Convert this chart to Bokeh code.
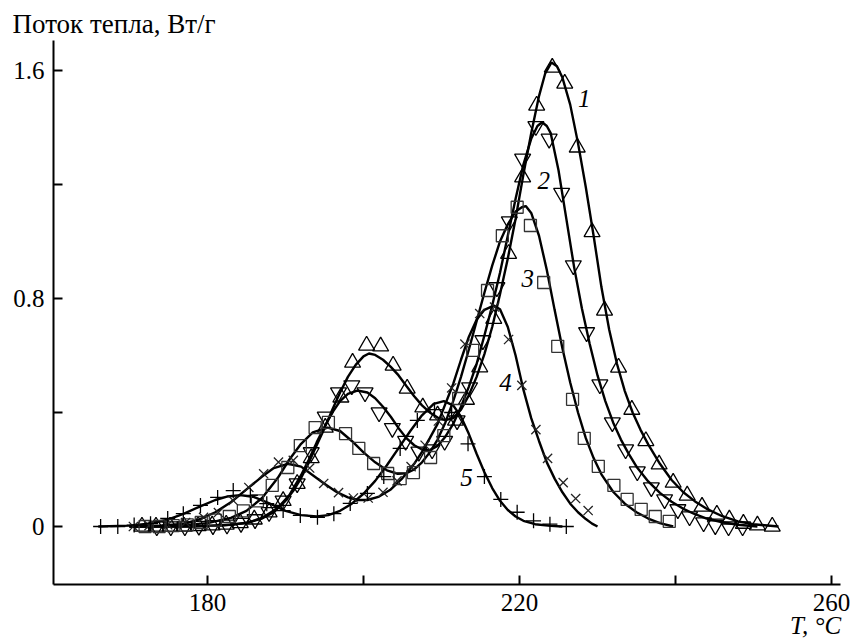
from bokeh.plotting import figure
from bokeh.models import Range1d, FixedTicker, Label
from bokeh.embed import file_html
from bokeh.resources import INLINE

# ---------------- data ----------------
# fitted curves
T1f = [170, 176, 180, 183, 185, 187, 188.5, 190, 191, 192, 193, 194, 195, 196, 197, 198, 199, 200, 200.7, 201.5,
       202.5, 203.5, 204.5, 205.5, 206.5, 207.5, 208.5, 209.5, 210.5, 211.5, 212.5, 213.5, 214.5, 215.5, 216.5,
       217.5, 218.5, 219.5, 220.5, 221.5, 222.5, 223.3, 224.1, 224.8, 225.5, 226.5, 227.5, 228.5, 229.5, 230.5,
       231.5, 232.5, 233.5, 234.5, 235.5, 236.5, 238, 239.5, 241, 242.5, 244, 246, 248, 250, 253.2]
Q1f = [0, 0, 0.002, 0.006, 0.013, 0.028, 0.05, 0.09, 0.125, 0.17, 0.225, 0.285, 0.345, 0.41, 0.47, 0.525, 0.567,
       0.597, 0.607, 0.602, 0.585, 0.56, 0.53, 0.493, 0.457, 0.425, 0.40, 0.382, 0.373, 0.38, 0.41, 0.46, 0.525,
       0.605, 0.70, 0.815, 0.94, 1.08, 1.235, 1.38, 1.51, 1.59, 1.628, 1.615, 1.575, 1.48, 1.345, 1.19, 1.02, 0.84,
       0.69, 0.57, 0.475, 0.40, 0.34, 0.288, 0.22, 0.163, 0.12, 0.088, 0.062, 0.036, 0.018, 0.008, 0.0]

T2f = [170, 178, 182, 185, 187, 189, 190.5, 192, 193, 194, 195, 196, 197, 198, 199.2, 200.5, 201.5, 202.5, 203.5,
       204.5, 205.5, 206.5, 207.5, 208.5, 209.5, 210.5, 211.5, 212.5, 213.5, 214.5, 215.5, 216.5, 217.5, 218.5,
       219.5, 220.5, 221.5, 222.3, 222.9, 223.5, 224, 225, 226, 227, 228, 229, 230, 231, 232, 233, 234, 235, 236.5,
       238, 239.5, 241, 242.5, 244, 246, 248, 250.5]
Q2f = [0, 0, 0.004, 0.012, 0.03, 0.065, 0.11, 0.18, 0.235, 0.295, 0.35, 0.40, 0.44, 0.465, 0.477, 0.47, 0.45, 0.42,
       0.385, 0.345, 0.31, 0.285, 0.27, 0.268, 0.283, 0.315, 0.36, 0.42, 0.49, 0.57, 0.67, 0.775, 0.89, 1.02, 1.15,
       1.27, 1.36, 1.405, 1.418, 1.405, 1.38, 1.25, 1.08, 0.91, 0.765, 0.64, 0.53, 0.44, 0.365, 0.305, 0.255, 0.21,
       0.158, 0.118, 0.087, 0.062, 0.043, 0.028, 0.015, 0.006, 0.0]

T3f = [171, 176, 180, 183, 185, 187, 189, 190.5, 192, 193.5, 195.4, 197, 198.5, 200, 201.5, 203, 204.4, 205.5,
       206.5, 207.5, 208.5, 209.5, 210.5, 211.5, 212.5, 213.5, 214.5, 215.5, 216.5, 217.5, 218.5, 219.5, 220.3,
       220.8, 221.5, 222.5, 223.5, 224.5, 225.5, 226.5, 227.5, 228.5, 229.5, 230.5, 232, 233.5, 235, 236.5, 238,
       239.7]
Q3f = [0, 0.003, 0.012, 0.03, 0.055, 0.10, 0.17, 0.235, 0.29, 0.33, 0.347, 0.335, 0.30, 0.26, 0.225, 0.197, 0.185,
       0.187, 0.2, 0.225, 0.26, 0.305, 0.365, 0.44, 0.525, 0.62, 0.72, 0.82, 0.915, 1.0, 1.06, 1.105, 1.12, 1.124,
       1.10, 1.02, 0.90, 0.76, 0.625, 0.505, 0.40, 0.31, 0.24, 0.183, 0.122, 0.08, 0.05, 0.028, 0.012, 0.0]

T4f = [170, 174, 177, 179, 181, 183, 185, 187, 188.5, 190.3, 192, 193.5, 195, 196.5, 198, 199.3, 200.5, 202, 203.5,
       205, 206.5, 207.5, 208.5, 209.5, 210.5, 211.5, 212.5, 213.5, 214.5, 215.5, 216.7, 217.5, 218.5, 219.5,
       220.5, 221.5, 222.5, 223.5, 224.5, 225.5, 226.5, 227.5, 228.5, 229.3, 230]
Q4f = [0, 0.003, 0.01, 0.025, 0.05, 0.085, 0.13, 0.175, 0.205, 0.22, 0.21, 0.18, 0.15, 0.122, 0.102, 0.093, 0.093,
       0.105, 0.13, 0.17, 0.22, 0.262, 0.31, 0.36, 0.43, 0.50, 0.585, 0.665, 0.725, 0.76, 0.775, 0.762, 0.70, 0.60,
       0.48, 0.38, 0.30, 0.225, 0.168, 0.12, 0.08, 0.05, 0.026, 0.01, 0.0]

T5f = [166, 170, 173, 175, 177, 179, 181, 182.5, 184.2, 186, 188, 190, 192, 194, 195.5, 197, 198.5, 200, 201.5,
       203, 204.5, 206, 207.5, 209, 210.3, 211.5, 212.5, 213.5, 214.5, 215.5, 216.5, 217.5, 218.5, 219.5, 220.5,
       222, 224, 225.5]
Q5f = [0, 0.003, 0.012, 0.025, 0.045, 0.07, 0.093, 0.105, 0.11, 0.103, 0.08, 0.055, 0.04, 0.035, 0.04, 0.055, 0.08,
       0.115, 0.16, 0.215, 0.275, 0.335, 0.39, 0.43, 0.44, 0.425, 0.385, 0.325, 0.255, 0.19, 0.135, 0.09, 0.058,
       0.035, 0.02, 0.008, 0.002, 0.0]

# experimental points
T1m = [171.6, 173.4, 175.2, 177.0, 178.8, 180.6, 182.4, 184.2, 186.0, 187.9, 189.7, 191.5, 193.3, 195.1, 197.1,
       198.6, 200.4, 202.2, 203.8, 205.6, 207.6, 209.5, 211.8, 213.2, 214.9, 216.7, 218.6, 220.4, 222.2, 224.2,
       225.8, 227.4, 229.3, 230.9, 232.7, 234.4, 236.2, 237.9, 239.7, 241.5, 243.4, 245.3, 246.9, 248.7, 250.5, 252.4]
Q1m = [0, 0, 0, 0, 0.002, 0.004, 0.007, 0.012, 0.025, 0.05, 0.09, 0.15, 0.24, 0.347, 0.453, 0.575, 0.635, 0.632,
       0.565, 0.484, 0.418, 0.39, 0.372, 0.445, 0.559, 0.729, 0.957, 1.225, 1.477, 1.61, 1.554, 1.33, 1.033, 0.758,
       0.558, 0.41, 0.30, 0.218, 0.154, 0.109, 0.07, 0.042, 0.025, 0.01, 0.004, 0.0]

T2m = [173.5, 175.3, 177.1, 178.9, 180.7, 182.5, 184.3, 186.1, 187.9, 189.7, 191.5, 193.3, 195.1, 196.8, 198.5,
       200.2, 202.0, 203.7, 205.4, 207.1, 208.8, 210.4, 212.0, 213.6, 215.3, 217.1, 218.7, 220.4, 222.1, 223.8,
       225.4, 226.9, 228.6, 230.3, 231.9, 233.6, 235.1, 236.9, 238.6, 240.3, 241.8, 243.6, 245.1, 246.8, 248.6]
Q2m = [0, 0, 0, 0.002, 0.004, 0.006, 0.012, 0.025, 0.05, 0.09, 0.151, 0.26, 0.385, 0.47, 0.495, 0.47, 0.40, 0.345,
       0.30, 0.262, 0.27, 0.30, 0.372, 0.488, 0.653, 0.839, 1.07, 1.29, 1.404, 1.36, 1.17, 0.916, 0.681, 0.498,
       0.365, 0.27, 0.193, 0.137, 0.095, 0.06, 0.035, 0.014, 0.004, 0.0, 0.0]

T3m = [172.0, 173.8, 175.6, 177.4, 179.2, 181.0, 182.8, 184.6, 186.4, 188.3, 190.3, 191.9, 193.8, 195.5, 197.7,
       199.4, 201.3, 203.1, 204.7, 206.4, 208.6, 210.3, 212.2, 214.0, 215.9, 217.8, 219.7, 221.4, 223.1, 224.9,
       226.8, 228.3, 230.1, 232.1, 233.8, 235.6, 237.4, 239.2]
Q3m = [0.0, 0.0, 0.003, 0.006, 0.014, 0.022, 0.035, 0.055, 0.09, 0.144, 0.207, 0.284, 0.347, 0.365, 0.326, 0.274,
       0.221, 0.186, 0.168, 0.189, 0.242, 0.319, 0.449, 0.618, 0.828, 1.02, 1.12, 1.056, 0.856, 0.632, 0.446, 0.309,
       0.211, 0.144, 0.095, 0.06, 0.035, 0.018]

T4m = [170.5, 172.5, 174.9, 177.2, 179.5, 181.4, 183.3, 185.3, 187.2, 189.1, 191.0, 193.1, 194.9, 196.8, 198.7,
       200.6, 202.5, 204.3, 206.1, 207.9, 209.6, 211.3, 213.0, 214.9, 216.8, 218.6, 220.3, 222.1, 223.6, 225.6,
       227.2, 228.8]
Q4m = [0, 0.003, 0.006, 0.014, 0.032, 0.049, 0.091, 0.137, 0.185, 0.226, 0.232, 0.205, 0.151, 0.119, 0.10, 0.10,
       0.12, 0.16, 0.21, 0.285, 0.37, 0.486, 0.64, 0.747, 0.77, 0.656, 0.495, 0.34, 0.239, 0.154, 0.098, 0.056]

T5m = [166.3, 168.5, 170.6, 172.7, 174.9, 176.9, 179.1, 181.3, 183.3, 185.5, 187.6, 189.7, 191.9, 194.1, 196.2,
       198.3, 200.5, 202.6, 204.7, 206.9, 209.1, 211.3, 213.4, 215.5, 217.6, 219.7, 221.8, 223.9, 226.0]
Q5m = [0, 0, 0.005, 0.01, 0.028, 0.045, 0.074, 0.102, 0.126, 0.109, 0.08, 0.056, 0.039, 0.032, 0.045, 0.081, 0.116,
       0.175, 0.274, 0.372, 0.41, 0.40, 0.29, 0.175, 0.095, 0.05, 0.02, 0.008, 0.0]

# curve numbers and their positions
curve_labels = ["1", "2", "3", "4", "5"]
label_T = [228.3, 223.1, 221.05, 218.2, 213.2]
label_Q = [1.502, 1.214, 0.869, 0.506, 0.173]

x_ticks = [180, 200, 220, 240, 260]
x_tick_labels = {180: "180", 200: "", 220: "220", 240: "", 260: "260"}
y_ticks = [0, 0.4, 0.8, 1.2, 1.6]
y_tick_labels = {0: "0", 0.4: "", 0.8: "0.8", 1.2: "", 1.6: "1.6"}

y_title = "Поток тепла, Вт/г"
x_title = "T, °C"

# ---------------- figure ----------------
FONT = "Liberation Serif"
FS = "25px"
XMIN, XMAX = 160.26, 261.15
YMIN, YMAX = -0.2035, 1.705

p = figure(width=850, height=641, x_range=Range1d(XMIN, XMAX), y_range=Range1d(YMIN, YMAX),
           output_backend="svg", toolbar_location=None,
           min_border_left=53, min_border_right=10, min_border_top=40, min_border_bottom=57)
p.outline_line_color = None
p.xgrid.grid_line_color = None
p.ygrid.grid_line_color = None
p.background_fill_color = "white"
p.border_fill_color = "white"

p.title.text = y_title
p.title.align = "left"
p.title.offset = -41
p.title.standoff = 3
p.title.text_font = FONT
p.title.text_font_size = "27px"
p.title.text_font_style = "normal"
p.title.text_color = "black"

for ax in (p.xaxis[0], p.yaxis[0]):
    ax.axis_line_width = 2
    ax.axis_line_color = "black"
    ax.major_tick_line_width = 2
    ax.major_tick_line_color = "black"
    ax.major_tick_in = 9
    ax.major_tick_out = 0
    ax.minor_tick_line_color = None
    ax.major_label_text_font = FONT
    ax.major_label_text_font_size = FS
    ax.major_label_text_color = "black"
    ax.major_label_standoff = 9

xa = p.xaxis[0]
xa.ticker = FixedTicker(ticks=x_ticks)
xa.major_label_overrides = x_tick_labels
# the label is centred on the end of the axis; two em spaces move the visible text left
xa.axis_label = x_title + "\u2003\u2003"
xa.axis_label_text_font = FONT
xa.axis_label_text_font_size = FS
xa.axis_label_text_font_style = "italic"
xa.axis_label_text_color = "black"
xa.axis_label_standoff = -2
try:
    xa.axis_label_align = "end"
except Exception:
    pass

ya = p.yaxis[0]
ya.ticker = FixedTicker(ticks=y_ticks)
ya.major_label_overrides = y_tick_labels

LW = 2.4
for T, Q in [(T5f, Q5f), (T4f, Q4f), (T3f, Q3f), (T2f, Q2f), (T1f, Q1f)]:
    p.line(T, Q, line_color="black", line_width=LW)

MLW = 1.3
p.scatter(T1m, Q1m, marker="triangle", size=16, line_color="black", fill_alpha=0, line_width=MLW)
p.scatter(T2m, Q2m, marker="inverted_triangle", size=16, line_color="black", fill_alpha=0, line_width=MLW)
p.scatter(T3m, Q3m, marker="square", size=12, line_color="#333333", fill_alpha=0, line_width=MLW)
p.scatter(T4m, Q4m, marker="x", size=13, line_color="#222222", line_width=MLW)
p.scatter(T5m, Q5m, marker="cross", size=15, line_color="black", line_width=MLW)

for t, x, y in zip(curve_labels, label_T, label_Q):
    p.add_layout(Label(x=x, y=y, text=t, text_font=FONT, text_font_style="italic", text_font_size=FS,
                       text_align="center", text_baseline="middle", text_color="black"))

open("out.html", "w").write(file_html(p, INLINE))
